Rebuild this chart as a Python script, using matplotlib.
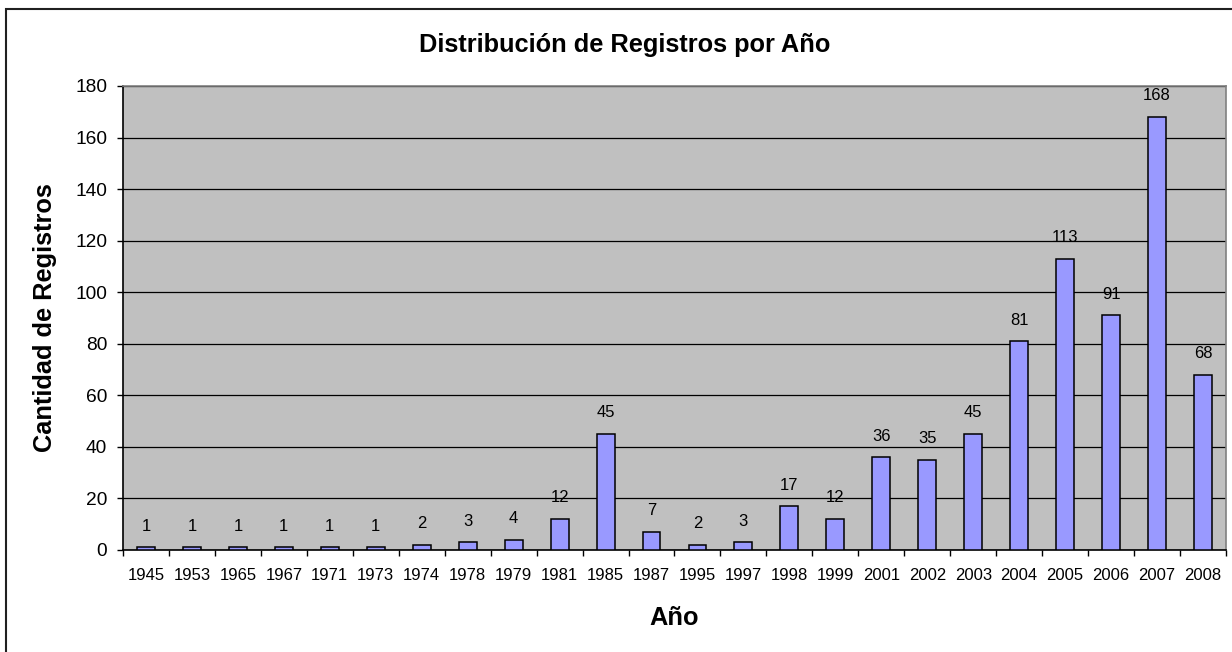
import matplotlib.pyplot as plt
import numpy as np
from matplotlib.patches import Rectangle

plt.rcParams['font.family'] = ['Liberation Sans', 'DejaVu Sans']

years = ['1945', '1953', '1965', '1967', '1971', '1973', '1974', '1978', '1979', '1981',
         '1985', '1987', '1995', '1997', '1998', '1999', '2001', '2002', '2003', '2004',
         '2005', '2006', '2007', '2008']
counts = [1, 1, 1, 1, 1, 1, 2, 3, 4, 12, 45, 7, 2, 3, 17, 12, 36, 35, 45, 81, 113, 91, 168, 68]

W, H = 1232, 652
fig = plt.figure(figsize=(W / 100, H / 100), dpi=100)
# chart frame (only left/top edges fall inside the picture)
fig.patches.append(Rectangle((6 / W, -0.1), 1.2, 1.1 - 9 / H, transform=fig.transFigure,
                             fill=False, edgecolor='#202020', linewidth=1.5))

ax = fig.add_axes([123 / W, 1 - 550 / H, 1103 / W, 464 / H])
ax.set_facecolor('#C0C0C0')

x = np.arange(len(years))
ax.bar(x, counts, width=0.39, color='#9999FF', edgecolor='black', linewidth=1.1, zorder=3)
for xi, v in zip(x, counts):
    ax.annotate(str(v), (xi, v), xytext=(0, 12), textcoords='offset points',
                ha='center', va='baseline', fontsize=12)

ax.set_xlim(-0.5, len(years) - 0.5)
ax.set_ylim(0, 180)
ax.set_yticks(range(0, 181, 20))
ax.yaxis.grid(True, color='black', linewidth=0.9, zorder=1)
ax.set_axisbelow(True)

ax.set_xticks(x)
ax.set_xticklabels(years, fontsize=12)
ax.tick_params(axis='x', which='major', length=0, pad=13)
ax.set_xticks(np.arange(-0.5, len(years)), minor=True)
ax.tick_params(axis='x', which='minor', length=4, direction='out', width=1)
ax.tick_params(axis='y', labelsize=13.8, length=4.5, direction='out', width=1, pad=7)

for s in ['top', 'right']:
    ax.spines[s].set_color('#808080')
    ax.spines[s].set_linewidth(1.2)
for s in ['left', 'bottom']:
    ax.spines[s].set_color('black')
    ax.spines[s].set_linewidth(1.2)

fig.text(625 / W, 1 - 45 / H, 'Distribución de Registros por Año', ha='center', va='center',
         fontsize=18.3, fontweight='bold')
fig.text(674.5 / W, 1 - 618 / H, 'Año', ha='center', va='center', fontsize=18.3, fontweight='bold')
fig.text(45 / W, 1 - 318 / H, 'Cantidad de Registros', ha='center', va='center', rotation=90,
         fontsize=18.3, fontweight='bold')

fig.savefig('out.png', dpi=100)
